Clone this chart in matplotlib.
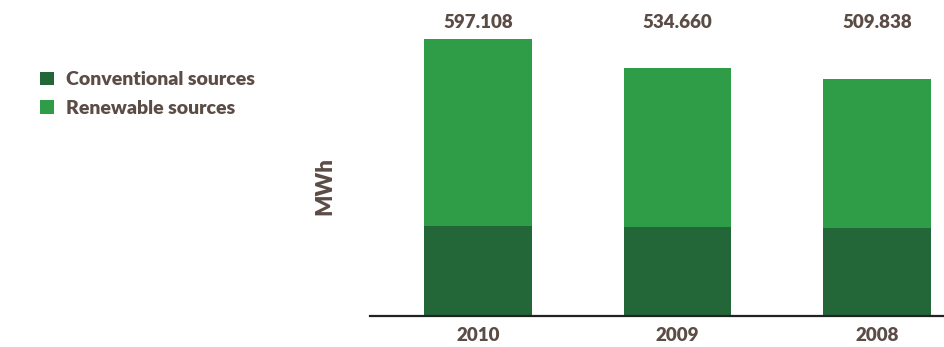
import matplotlib.pyplot as plt
import matplotlib.transforms as mtransforms

# Energy consumption by source, MWh
years = ['2010', '2009', '2008']
conventional = [193210, 192870, 190540]
renewable = [403898, 341790, 319298]
totals = [c + r for c, r in zip(conventional, renewable)]

dark_green = '#236638'
light_green = '#2f9c48'
text_color = '#5b4c45'

plt.rcParams['font.family'] = ['Lato', 'DejaVu Sans']

fig = plt.figure(figsize=(9.44, 3.47), dpi=100)
ax = fig.add_axes([0.392, 0.0893, 0.608, 0.853])

x = range(len(years))
width = 0.54
ax.bar(x, conventional, width, color=dark_green, label='Conventional sources')
ax.bar(x, renewable, width, bottom=conventional, color=light_green, label='Renewable sources')

# totals in a row along the top, dot as thousands separator
trans = mtransforms.blended_transform_factory(ax.transData, ax.transAxes)
for i, t in enumerate(totals):
    ax.text(i, 0.99, f'{t:,}'.replace(',', '.'), transform=trans, ha='center', va='center',
            fontsize=13.5, fontweight='heavy', color=text_color, clip_on=False)

ax.set_xlim(-0.541, 2.336)
ax.set_ylim(0, 638000)
ax.set_xticks(list(x))
ax.set_xticklabels(years, fontsize=13.5, fontweight='heavy', color=text_color)
ax.tick_params(axis='x', length=0, pad=8)
ax.set_yticks([])
for side in ['top', 'right', 'left']:
    ax.spines[side].set_visible(False)
ax.spines['bottom'].set_linewidth(1.6)
ax.spines['bottom'].set_color('#222222')

fig.text(0.344, 0.465, 'MWh', rotation=90, ha='center', va='center',
         fontsize=16, fontweight='heavy', color=text_color)

handles, labels = ax.get_legend_handles_labels()
leg = fig.legend(handles, labels, loc='upper left', bbox_to_anchor=(0.024, 0.845),
                 frameon=False, handlelength=0.72, handleheight=0.72, handletextpad=0.6,
                 labelspacing=0.6, prop={'size': 14, 'weight': 'heavy'})
for t in leg.get_texts():
    t.set_color(text_color)

fig.savefig('out.png', dpi=100)
